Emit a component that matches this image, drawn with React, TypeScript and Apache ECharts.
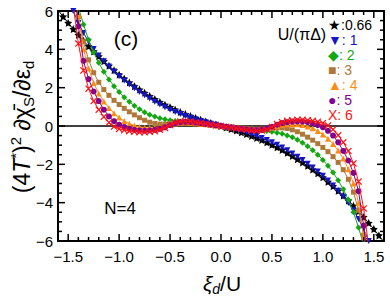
import React, { useEffect, useRef } from "react";
import * as echarts from "echarts";

const xs = [-1.6,-1.55,-1.5,-1.45,-1.4,-1.35,-1.3,-1.25,-1.2,-1.15,-1.1,-1.05,-1.0,-0.95,-0.9,-0.85,-0.8,-0.75,-0.7,-0.65,-0.6,-0.55,-0.5,-0.45,-0.4,-0.35,-0.3,-0.25,-0.2,-0.15,-0.1,-0.05,0,0.05,0.1,0.15,0.2,0.25,0.3,0.35,0.4,0.45,0.5,0.55,0.6,0.65,0.7,0.75,0.8,0.85,0.9,0.95,1.0,1.05,1.1,1.15,1.2,1.25,1.3,1.35,1.4,1.45,1.5,1.55,1.6];

const u066 = [6.05,5.71,5.38,5.06,4.75,4.45,4.16,3.89,3.63,3.38,3.14,2.91,2.68,2.47,2.27,2.08,1.9,1.73,1.56,1.4,1.25,1.11,0.98,0.85,0.73,0.62,0.52,0.42,0.33,0.24,0.16,0.08,
  0,-0.08,-0.16,-0.24,-0.33,-0.42,-0.52,-0.62,-0.73,-0.85,-0.98,-1.11,-1.25,-1.4,-1.56,-1.73,-1.9,-2.08,-2.27,-2.47,-2.68,-2.91,-3.14,-3.38,-3.63,-3.89,-4.16,-4.45,-4.75,-5.06,-5.38,-5.71,-6.05];
const u1 = [8.4,7.5,6.7,6.0,5.38,4.85,4.4,4.02,3.68,3.38,3.1,2.84,2.6,2.38,2.17,1.97,1.78,1.6,1.43,1.27,1.12,0.98,0.85,0.73,0.62,0.52,0.43,0.34,0.26,0.19,0.12,0.06,
  0,-0.06,-0.12,-0.19,-0.26,-0.34,-0.43,-0.52,-0.62,-0.73,-0.85,-0.98,-1.12,-1.27,-1.43,-1.6,-1.78,-1.97,-2.17,-2.38,-2.6,-2.84,-3.1,-3.38,-3.68,-4.02,-4.4,-4.85,-5.38,-6.0,-6.7,-7.5,-8.4];
const u2 = [10.8,9.5,8.3,7.2,6.2,5.3,4.5,3.85,3.3,2.83,2.43,2.08,1.77,1.5,1.27,1.06,0.88,0.72,0.59,0.49,0.41,0.35,0.3,0.26,0.23,0.2,0.18,0.15,0.12,0.09,0.06,0.03,
  0,-0.03,-0.06,-0.09,-0.12,-0.15,-0.18,-0.2,-0.23,-0.26,-0.3,-0.35,-0.41,-0.49,-0.59,-0.72,-0.88,-1.06,-1.27,-1.5,-1.77,-2.08,-2.43,-2.83,-3.3,-3.85,-4.5,-5.3,-6.2,-7.2,-8.3,-9.5,-10.8];
const u3 = [13.6,11.3,9.2,7.3,5.7,4.4,3.45,2.78,2.28,1.9,1.6,1.34,1.12,0.92,0.74,0.58,0.43,0.3,0.2,0.13,0.1,0.1,0.12,0.15,0.17,0.17,0.16,0.14,0.12,0.09,0.06,0.03,
  0,-0.03,-0.06,-0.09,-0.12,-0.14,-0.16,-0.17,-0.17,-0.15,-0.12,-0.1,-0.1,-0.13,-0.2,-0.3,-0.43,-0.58,-0.74,-0.92,-1.12,-1.34,-1.6,-1.9,-2.28,-2.78,-3.45,-4.4,-5.7,-7.3,-9.2,-11.3,-13.6];
const u4 = [16,13,10.5,8.0,5.8,4.0,3.0,2.25,1.7,1.28,0.94,0.66,0.44,0.26,0.12,0.02,-0.05,-0.09,-0.1,-0.09,-0.06,-0.01,0.06,0.13,0.17,0.18,0.17,0.15,0.12,0.09,0.06,0.03,
  0,-0.03,-0.06,-0.09,-0.12,-0.15,-0.17,-0.18,-0.17,-0.13,-0.06,0.01,0.06,0.09,0.1,0.09,0.05,-0.02,-0.12,-0.26,-0.44,-0.66,-0.94,-1.28,-1.7,-2.25,-3.0,-4.0,-5.8,-8.0,-10.5,-13,-16];
const u5 = [16,13,10,7.5,5.2,3.4,2.45,1.8,1.3,0.85,0.5,0.25,0.07,-0.05,-0.14,-0.2,-0.23,-0.24,-0.23,-0.2,-0.15,-0.07,0.04,0.14,0.2,0.22,0.21,0.18,0.15,0.11,0.07,0.035,
  0,-0.035,-0.07,-0.11,-0.15,-0.18,-0.21,-0.22,-0.2,-0.14,-0.04,0.07,0.15,0.2,0.23,0.24,0.23,0.2,0.14,0.05,-0.07,-0.25,-0.5,-0.85,-1.3,-1.8,-2.45,-3.4,-5.2,-7.5,-10,-13,-16];
const u6 = [15.5,12,9,6.3,4.3,2.9,1.95,1.3,0.85,0.48,0.18,-0.03,-0.15,-0.22,-0.27,-0.3,-0.32,-0.32,-0.3,-0.27,-0.2,-0.1,0.05,0.18,0.24,0.25,0.23,0.2,0.16,0.12,0.08,0.04,
  0,-0.04,-0.08,-0.12,-0.16,-0.2,-0.23,-0.25,-0.24,-0.18,-0.05,0.1,0.2,0.27,0.3,0.32,0.32,0.3,0.27,0.22,0.15,0.03,-0.18,-0.48,-0.85,-1.3,-1.95,-2.9,-4.3,-6.3,-9,-12,-15.5];

const xMajorTicks = [-1.5, -1.0, -0.5, 0, 0.5, 1.0, 1.5];
const xMinorTicks = [-1.6,-1.4,-1.3,-1.2,-1.1,-0.9,-0.8,-0.7,-0.6,-0.4,-0.3,-0.2,-0.1,0.1,0.2,0.3,0.4,0.6,0.7,0.8,0.9,1.1,1.2,1.3,1.4,1.6];
const yMajorTicks = [-6, -4, -2, 0, 2, 4, 6];
const yMinorTicks = [-5.5,-5,-4.5,-3.5,-3,-2.5,-1.5,-1,-0.5,0.5,1,1.5,2.5,3,3.5,4.5,5,5.5];
const uLabels = ["0.66", "1", "2", "3", "4", "5", "6"];

const X_MIN = -1.6, X_MAX = 1.6, Y_MIN = -6, Y_MAX = 6;

const STAR = "path://M0,-10 L2.9,-4 9.5,-3.1 4.8,1.5 5.9,8.1 0,5 -5.9,8.1 -4.8,1.5 -9.5,-3.1 -2.9,-4 Z";
const CROSS = "path://M0,1.2 L1.2,0 5,3.8 8.8,0 10,1.2 6.2,5 10,8.8 8.8,10 5,6.2 1.2,10 0,8.8 3.8,5 Z";

const COLORS = ["#000000", "#1414c8", "#12a812", "#b07838", "#ff8c10", "#800090", "#ff1010"];
const SYMS = [STAR, "triangle", "diamond", "rect", "triangle", "circle", CROSS];
const SIZES = [8, 6, 6, 5, 6, 6, 7];
const ROT = [0, 180, 0, 0, 0, 0, 0];
const GLYPHS = ["★", "▼", "◆", "■", "▲", "●", "X"];

const FONT = "Liberation Sans, Arial, Helvetica, sans-serif";

export default function App() {
  const ref = useRef<HTMLDivElement>(null);
  useEffect(() => {
    if (!ref.current) return;
    const chart = echarts.init(ref.current, null, { renderer: "svg" });
    const all = [u066, u1, u2, u3, u4, u5, u6];
    const series: any[] = all.map((vals, i) => ({
      type: "line",
      name: uLabels[i],
      data: xs.map((x, j) => [x, vals[j]]),
      symbol: SYMS[i],
      symbolSize: SIZES[i],
      symbolRotate: ROT[i],
      showSymbol: true,
      showAllSymbol: true,
      lineStyle: { color: COLORS[i], width: 1 },
      itemStyle: { color: COLORS[i] },
      clip: true,
      z: 3 + i,
    }));
    series[0].markLine = {
      silent: true,
      symbol: "none",
      label: { show: false },
      lineStyle: { color: "#000", width: 1.5, type: "solid" },
      data: [{ yAxis: 0 }],
      z: 2,
    };
    const tickLine = (x1: number, y1: number, x2: number, y2: number) => ({
      type: "line",
      shape: { x1, y1, x2, y2 },
      style: { stroke: "#000", lineWidth: 1.5 },
    });
    // x ticks (bottom and top), through the axis scale
    const xTickData = [
      ...xMajorTicks.map((v) => [v, Y_MIN, 7]),
      ...xMinorTicks.map((v) => [v, Y_MIN, 4]),
    ];
    const yTickData = [
      ...yMajorTicks.map((v) => [X_MIN, v, 7]),
      ...yMinorTicks.map((v) => [X_MIN, v, 4]),
    ];
    series.push({
      type: "custom",
      silent: true,
      clip: false,
      z: 20,
      data: xTickData,
      renderItem: (_p: any, api: any) => {
        const v = api.value(0);
        const len = api.value(2);
        const b = api.coord([v, Y_MIN]);
        const t = api.coord([v, Y_MAX]);
        return {
          type: "group",
          children: [tickLine(b[0], b[1], b[0], b[1] - len), tickLine(t[0], t[1], t[0], t[1] + len)],
        };
      },
    });
    series.push({
      type: "custom",
      silent: true,
      clip: false,
      z: 20,
      data: yTickData,
      renderItem: (_p: any, api: any) => {
        const v = api.value(1);
        const len = api.value(2);
        const l = api.coord([X_MIN, v]);
        const r = api.coord([X_MAX, v]);
        return {
          type: "group",
          children: [tickLine(l[0], l[1], l[0] + len, l[1]), tickLine(r[0], r[1], r[0] - len, r[1])],
        };
      },
    });
    const legendItems: any[] = uLabels.map((u, i) => ({
      type: "text",
      x: 328,
      y: 25 + i * 15,
      style: {
        text: GLYPHS[i] + (i === 0 ? ":" : ": ") + u,
        fill: COLORS[i],
        font: `14px ${FONT}`,
        verticalAlign: "middle",
      },
    }));
    chart.setOption({
      animation: false,
      grid: { left: 58, right: 6, top: 11, bottom: 56 },
      xAxis: [
        {
          type: "value",
          min: X_MIN,
          max: X_MAX,
          interval: 0.1,
          position: "bottom",
          splitLine: { show: false },
          axisLine: { show: true, onZero: false, lineStyle: { color: "#000", width: 2 } },
          axisTick: { show: false },
          axisLabel: {
            show: true,
            color: "#000",
            fontSize: 15,
            fontFamily: FONT,
            margin: 8,
            formatter: (v: number) => {
              const r = Math.round(v * 10);
              if (r % 5 !== 0 || Math.abs(r) > 15) return "";
              return (r < 0 ? "\u2212" : "") + Math.abs(v).toFixed(1);
            },
          },
        },
        {
          type: "value",
          min: X_MIN,
          max: X_MAX,
          position: "top",
          splitLine: { show: false },
          axisLine: { show: true, onZero: false, lineStyle: { color: "#000", width: 2 } },
          axisTick: { show: false },
          axisLabel: { show: false },
        },
      ],
      yAxis: [
        {
          type: "value",
          min: Y_MIN,
          max: Y_MAX,
          interval: 2,
          position: "left",
          splitLine: { show: false },
          axisLine: { show: true, onZero: false, lineStyle: { color: "#000", width: 2 } },
          axisTick: { show: false },
          axisLabel: {
            color: "#000",
            fontSize: 15,
            fontFamily: FONT,
            margin: 5,
            formatter: (v: number) => (v < 0 ? "\u2212" : "") + Math.abs(v),
          },
        },
        {
          type: "value",
          min: Y_MIN,
          max: Y_MAX,
          interval: 2,
          position: "right",
          splitLine: { show: false },
          axisLine: { show: true, onZero: false, lineStyle: { color: "#000", width: 2 } },
          axisTick: { show: false },
          axisLabel: { show: false },
        },
      ],
      series,
      graphic: [
        {
          type: "text",
          x: 22,
          y: 127,
          rotation: Math.PI / 2,
          style: {
            text: "{m|(4}{i|T}{s|*}{m|)}{s|2}{m| \u2202\u03c7\u0304}{b|S}{m|/\u2202\u03b5}{b|d}",
            align: "center",
            verticalAlign: "middle",
            fill: "#000",
            rich: {
              m: { fontSize: 23, fontFamily: FONT, lineHeight: 28, verticalAlign: "middle" },
              i: { fontSize: 23, fontFamily: FONT, fontStyle: "italic", lineHeight: 28, verticalAlign: "middle" },
              s: { fontSize: 15, fontFamily: FONT, lineHeight: 15, verticalAlign: "top" },
              b: { fontSize: 15, fontFamily: FONT, lineHeight: 15, verticalAlign: "bottom" },
            },
          },
        },
        {
          type: "text",
          x: 222,
          y: 283,
          style: {
            text: "{i|\u03be}{b|d}{m|/U}",
            align: "center",
            verticalAlign: "middle",
            fill: "#000",
            rich: {
              m: { fontSize: 21, fontFamily: FONT, lineHeight: 26, verticalAlign: "middle" },
              i: { fontSize: 21, fontFamily: FONT, fontStyle: "italic", lineHeight: 26, verticalAlign: "middle" },
              b: { fontSize: 14, fontFamily: FONT, fontStyle: "italic", lineHeight: 14, verticalAlign: "bottom" },
            },
          },
        },
        {
          type: "text",
          x: 126,
          y: 38,
          style: { text: "(c)", font: `21px ${FONT}`, fill: "#000", align: "center", verticalAlign: "middle" },
        },
        {
          type: "text",
          x: 120,
          y: 208,
          style: { text: "N=4", font: `17px ${FONT}`, fill: "#000", align: "center", verticalAlign: "middle" },
        },
        {
          type: "text",
          x: 302,
          y: 34,
          style: { text: "U/(\u03c0\u0394)", font: `16px ${FONT}`, fill: "#000", align: "center", verticalAlign: "middle" },
        },
        ...legendItems,
      ],
    });
    return () => chart.dispose();
  }, []);
  return <div ref={ref} style={{ width: 390, height: 297, position: "absolute", left: 0, top: 0 }} />;
}
